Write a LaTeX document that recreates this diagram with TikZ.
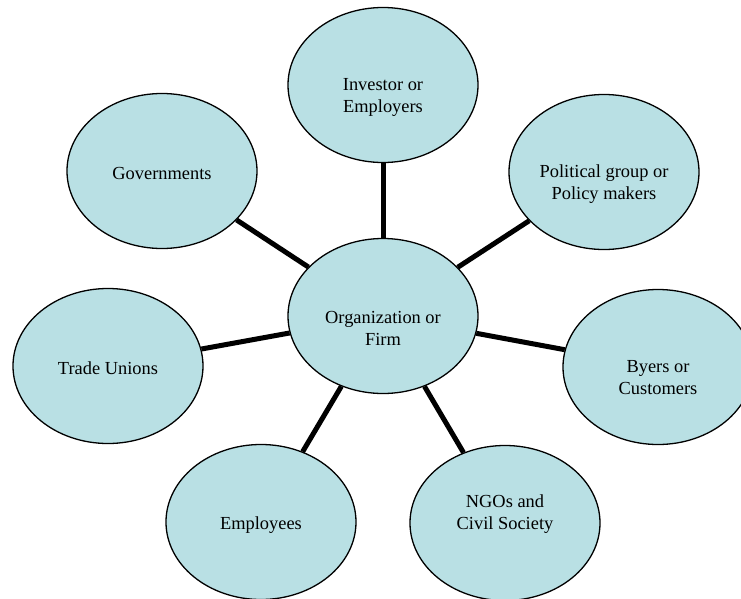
\documentclass[tikz,border=0pt]{standalone}
\usepackage{fontspec}
\setmainfont{Liberation Serif}
\usetikzlibrary{shapes.geometric, positioning}
\definecolor{mycolor}{RGB}{185, 224, 228}
\tikzstyle{party} = [ellipse, minimum width=190pt, minimum height=155pt,
                     draw=black, fill=mycolor, line width=1.3pt]
\tikzstyle{partytext} = [align=center, text=black,
                         font=\fontsize{18.4}{22}\selectfont]
\tikzstyle{link} = [line width=5pt]

\begin{document}
\begin{tikzpicture}[on grid]

        \clip (-383pt,-282pt) rectangle (358pt,316pt);

        %Firm in the middle
        \node (firm) [party, label={[partytext, yshift=-12pt]center:{Organization or\\Firm}}] at (0,0) {};

        %Stakeholders round the firm
        \node (investor) [party, above=231pt of firm, label={[partytext, yshift=-12pt]center:{Investor or\\Employers}}] {};
        \node (political) [party, above right=144pt and 221pt of firm, label={[partytext, yshift=-12pt]center:{Political group or\\Policy makers}}] {};
        \node (byers) [party, below right=51pt and 275pt of firm, label={[partytext, yshift=-11pt]center:{Byers or\\Customers}}] {};
        \node (ngos) [party, below right=207pt and 122pt of firm, label={[partytext, yshift=9pt]center:{NGOs and\\Civil Society}}] {};
        \node (employees) [party, below left=206pt and 122pt of firm, label={[partytext, yshift=-3pt]center:{Employees}}] {};
        \node (unions) [party, below left=50pt and 275pt of firm, label={[partytext, yshift=-2pt]center:{Trade Unions}}] {};
        \node (governments) [party, above left=145pt and 221pt of firm, label={[partytext, yshift=-2pt]center:{Governments}}] {};

        %Links from the firm
        \draw [link] (firm) -- (investor);
        \draw [link] (firm) -- (political);
        \draw [link] (firm) -- (byers);
        \draw [link] (firm) -- (ngos);
        \draw [link] (firm) -- (employees);
        \draw [link] (firm) -- (unions);
        \draw [link] (firm) -- (governments);

\end{tikzpicture}
\end{document}
